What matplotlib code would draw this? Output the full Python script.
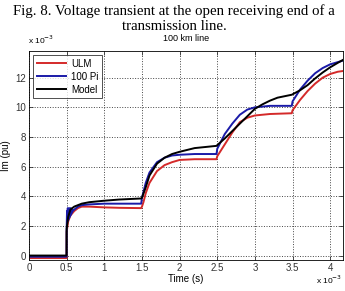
import matplotlib.pyplot as plt

# time in ms, current in 1e-3 pu (the x 10^-3 multipliers are drawn as text)
t_ulm = [0, 0.499, 0.5, 0.52, 0.55, 0.6, 0.65, 0.7, 0.8, 1.0, 1.2, 1.49, 1.5, 1.52, 1.55, 1.6,
         1.7, 1.8, 1.9, 2.0, 2.2, 2.49, 2.5, 2.6, 2.7, 2.8, 2.9, 3.0, 3.2, 3.49, 3.5, 3.6,
         3.7, 3.8, 3.9, 4.0, 4.1, 4.17]
v_ulm = [-0.17, -0.17, 1.6, 2.3, 2.7, 3.0, 3.2, 3.3, 3.3, 3.25, 3.22, 3.2, 3.3, 3.6, 4.2, 4.9,
         5.7, 6.1, 6.3, 6.45, 6.5, 6.5, 6.7, 7.5, 8.3, 9.0, 9.3, 9.45, 9.55, 9.6, 9.8, 10.5,
         11.1, 11.6, 12.0, 12.25, 12.4, 12.45]

t_pi = [0, 0.499, 0.5, 0.505, 0.51, 0.515, 0.52, 0.525, 0.53, 0.535, 0.54, 0.545, 0.55, 0.555,
        0.56, 0.565, 0.57, 0.575, 0.58, 0.6, 0.65, 0.7, 0.8, 1.0, 1.2, 1.49, 1.5, 1.55, 1.6,
        1.7, 1.8, 1.9, 2.0, 2.2, 2.49, 2.5, 2.6, 2.7, 2.8, 2.9, 3.0, 3.2, 3.49, 3.5, 3.6,
        3.7, 3.8, 3.9, 4.0, 4.1, 4.17]
v_pi = [-0.08, -0.08, 1.8, 3.0, 2.3, 3.2, 2.4, 3.1, 2.5, 3.2, 2.6, 3.1, 2.7, 3.2, 2.8, 3.1,
        2.9, 3.1, 3.0, 3.1, 3.3, 3.4, 3.45, 3.5, 3.5, 3.5, 3.9, 4.9, 5.6, 6.3, 6.6, 6.75,
        6.8, 6.85, 6.85, 7.2, 8.2, 8.9, 9.5, 9.85, 10.0, 10.1, 10.1, 10.4, 11.2, 11.8,
        12.3, 12.65, 12.9, 13.05, 13.15]

t_model = [0, 0.499, 0.5, 0.52, 0.55, 0.6, 0.65, 0.7, 0.8, 0.9, 1.0, 1.2, 1.49, 1.5, 1.55,
           1.6, 1.7, 1.8, 1.9, 2.0, 2.2, 2.49, 2.5, 2.6, 2.7, 2.8, 2.9, 3.0, 3.1, 3.2, 3.3,
           3.49, 3.6, 3.7, 3.8, 3.9, 4.0, 4.1, 4.17]
v_model = [0.0, 0.0, 1.8, 2.6, 3.1, 3.3, 3.4, 3.5, 3.6, 3.65, 3.7, 3.78, 3.85, 3.9, 4.6,
           5.4, 6.2, 6.6, 6.85, 7.0, 7.25, 7.4, 7.45, 7.9, 8.4, 8.9, 9.4, 9.9, 10.2, 10.45,
           10.65, 10.85, 11.15, 11.5, 11.95, 12.35, 12.7, 13.0, 13.2]

x_ticks = [0, 0.5, 1, 1.5, 2, 2.5, 3, 3.5, 4]
x_labels = ['0', '0.5', '1', '1.5', '2', '2.5', '3', '3.5', '4']
y_ticks = [0, 2, 4, 6, 8, 10, 12]

plt.rcParams['font.family'] = ['Liberation Sans', 'DejaVu Sans']

fig = plt.figure(figsize=(3.45, 2.91), dpi=100)
ax = fig.add_axes([29 / 345, 1 - 260 / 291, 314 / 345, 209 / 291])

ax.plot(t_ulm, v_ulm, color='#d42a2a', lw=1.4, label='ULM')
ax.plot(t_pi, v_pi, color='#1a1aa8', lw=1.4, label='100 Pi')
ax.plot(t_model, v_model, color='black', lw=1.4, label='Model')

ax.set_xlim(0, 4.17)
ax.set_ylim(-0.3, 13.8)
ax.set_xticks(x_ticks)
ax.set_xticklabels(x_labels)
ax.set_yticks(y_ticks)
ax.tick_params(direction='in', length=3, width=0.6, labelsize=7, colors='#333333',
               top=True, right=True, pad=2)
ax.grid(True, linestyle=':', color='#444444', linewidth=0.7)
for s in ax.spines.values():
    s.set_linewidth(0.6)

ax.set_xlabel('Time (s)', fontsize=7, labelpad=1)
ax.set_ylabel('Im (pu)', fontsize=7, labelpad=3)
ax.set_title('100 km line', fontsize=6.5, pad=7)

leg = ax.legend(loc='upper left', fontsize=7, frameon=True, fancybox=False,
                handlelength=3.0, borderaxespad=0.45, labelspacing=0.3,
                borderpad=0.35, handletextpad=0.5)
leg.get_frame().set_edgecolor('black')
leg.get_frame().set_linewidth(0.6)

fig.text(28 / 345, 1 - 44 / 291, r'x 10$^{-3}$', fontsize=6, ha='left', va='baseline')
fig.text(316 / 345, 1 - 284 / 291, r'x 10$^{-3}$', fontsize=6, ha='left', va='baseline')

fig.text(0.505, 1 - 11 / 291, 'Fig. 8. Voltage transient at the open receiving end of a',
         family='Liberation Serif', fontsize=10.7, ha='center', va='center')
fig.text(0.505, 1 - 27 / 291, 'transmission line.',
         family='Liberation Serif', fontsize=10.7, ha='center', va='center')

fig.savefig('out.png', dpi=100)
